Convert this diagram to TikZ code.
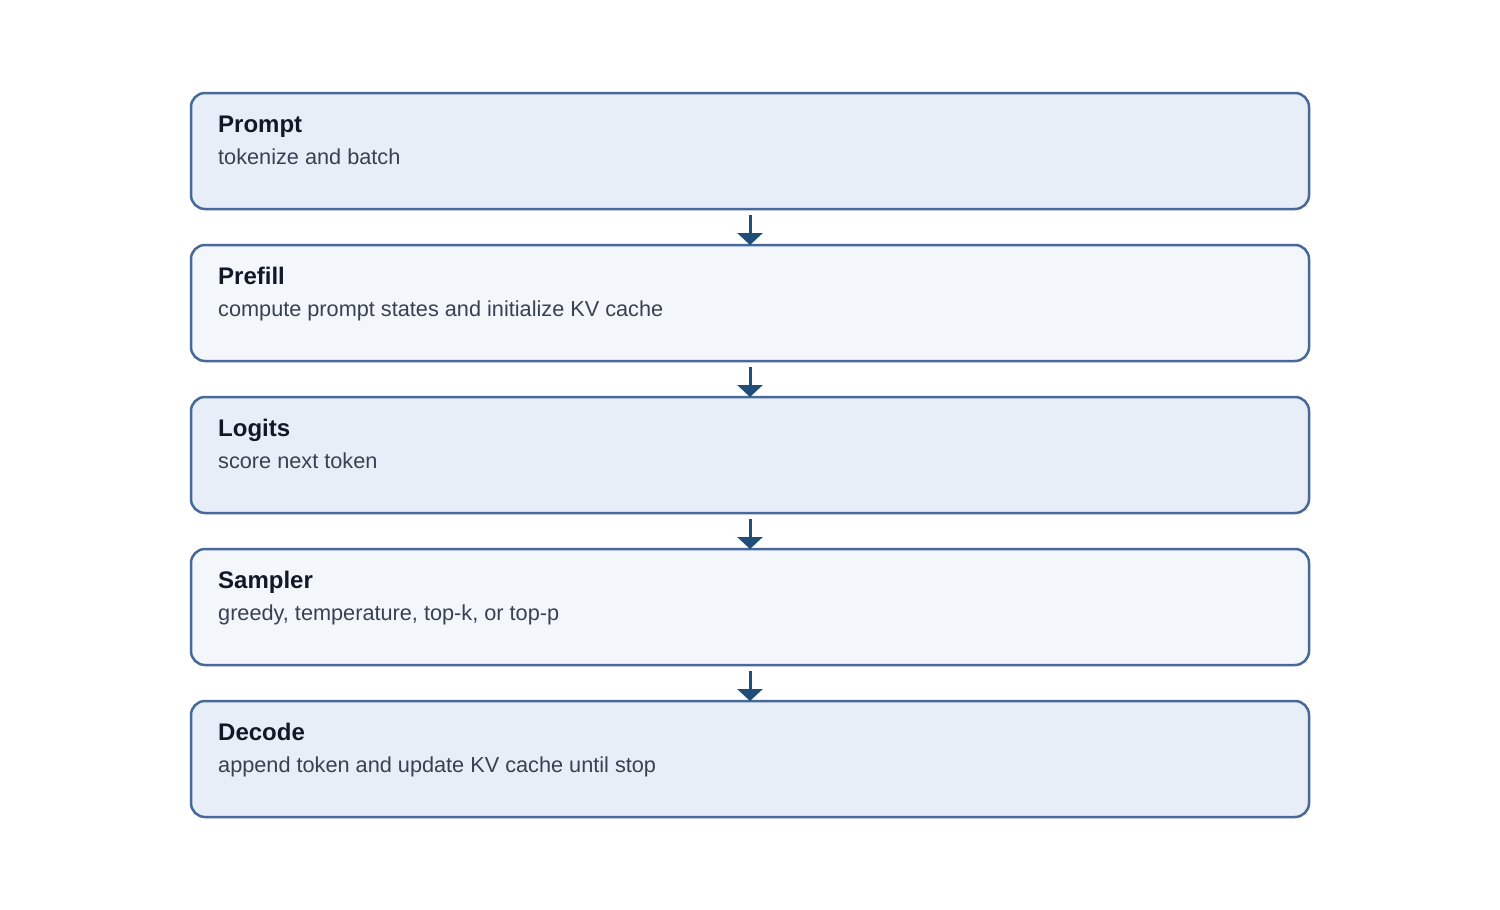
\documentclass[tikz,border=0pt]{standalone}
\usepackage{fontspec}
\setmainfont{Liberation Sans}
\usetikzlibrary{arrows.meta}
\definecolor{borderc}{HTML}{46699A}
\definecolor{fillA}{HTML}{E8EEF7}
\definecolor{fillB}{HTML}{F3F7FB}
\definecolor{arrc}{HTML}{1F4E79}
\definecolor{titlec}{HTML}{111827}
\definecolor{subc}{HTML}{374151}
\tikzset{
  box/.style={draw=borderc, line width=2.5pt, rounded corners=14pt, minimum width=1118pt, minimum height=116pt, outer sep=0pt, inner sep=0pt},
  ttl/.style={anchor=base west, inner sep=0pt, text=titlec, font=\fontsize{24pt}{28pt}\selectfont\bfseries},
  sub/.style={anchor=base west, inner sep=0pt, text=subc, font=\fontsize{21.7pt}{26pt}\selectfont},
  arr/.style={draw=arrc, line width=3pt, -{Triangle[width=25pt,length=12pt]}, shorten <=6pt}
}
\begin{document}
\begin{tikzpicture}[x=1pt,y=-1pt]
\useasboundingbox (0,0) rectangle (1500,910);
\node[box, fill=fillA] (b1) at (750,151) {};
\node[box, fill=fillB] (b2) at (750,303) {};
\node[box, fill=fillA] (b3) at (750,455) {};
\node[box, fill=fillB] (b4) at (750,607) {};
\node[box, fill=fillA] (b5) at (750,759) {};
\foreach \n/\t/\s in {b1/Prompt/tokenize and batch, b2/Prefill/compute prompt states and initialize KV cache, b3/Logits/score next token, b4/Sampler/{greedy, temperature, top-k, or top-p}, b5/Decode/append token and update KV cache until stop}{
  \node[ttl] (\n t) at ([xshift=27pt,yshift=-39pt]\n.north west) {\t};
  \node[sub] (\n s) at ([xshift=27pt,yshift=-71pt]\n.north west) {\s};
}
\draw[arr] (b1.south) -- (b2.north);
\draw[arr] (b2.south) -- (b3.north);
\draw[arr] (b3.south) -- (b4.north);
\draw[arr] (b4.south) -- (b5.north);
\end{tikzpicture}
\end{document}
